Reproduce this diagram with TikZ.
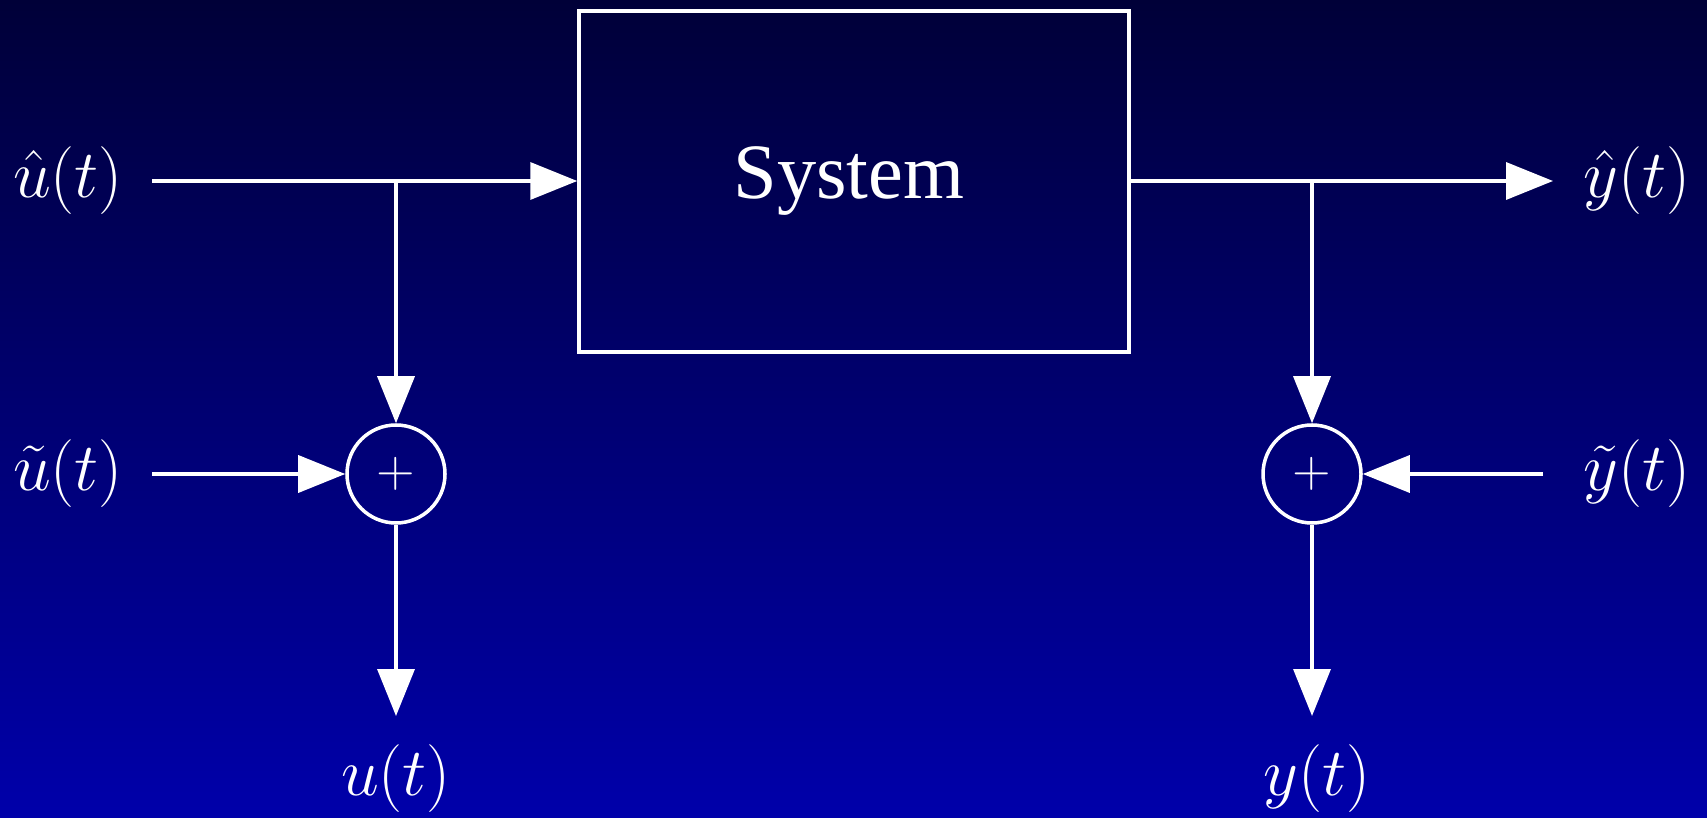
\RequirePackage{fix-cm}
\documentclass[tikz,border=0pt]{standalone}
\usepackage{fontspec}
\setmainfont{Liberation Serif}
\usetikzlibrary{arrows.meta}
\definecolor{bgtop}{RGB}{0,0,56}
\definecolor{bgbot}{RGB}{0,0,170}
\begin{document}
\begin{tikzpicture}[
  every node/.style={text=white},
  wire/.style={draw=white, line width=1pt},
  arr/.style={wire, -{Triangle[length=4.7mm,width=3.7mm]}},
  sig/.style={font=\fontsize{19.3}{23}\selectfont, inner sep=0pt},
  sumnode/.style={circle, draw=white, line width=1pt, minimum size=9.8mm, inner sep=0pt, font=\fontsize{14.4}{17}\selectfont},
  sysbox/.style={rectangle, draw=white, line width=1pt, minimum width=5.5cm, minimum height=3.41cm, inner sep=0pt}
]
\shade[top color=bgtop, bottom color=bgbot] (0,0) rectangle (17.07,8.17);
\useasboundingbox (0,0) rectangle (17.07,8.17);

\node[sysbox] (sys) at (8.54,6.355) {};
\node[font=\fontsize{22.3}{26}\selectfont, inner sep=0pt] (systxt) at (8.49,6.36) {System};

\node[sumnode] (sumu) at (3.96,3.43) {$+$};
\node[sumnode] (sumy) at (13.12,3.43) {$+$};

\node[sig] (uhat) at (0.68,6.36) {$\hat{u}(t)$};
\node[sig] (utilde) at (0.68,3.43) {$\tilde{u}(t)$};
\node[sig] (uout) at (3.96,0.38) {$u(t)$};
\node[sig] (yhat) at (16.37,6.36) {$\hat{y}(t)$};
\node[sig] (ytilde) at (16.37,3.43) {$\tilde{y}(t)$};
\node[sig] (yout) at (13.17,0.38) {$y(t)$};

\coordinate (uin) at (1.52,6.36);
\coordinate (bu) at (3.96,6.36);
\coordinate (utin) at (1.52,3.43);
\coordinate (uend) at (3.96,1.01);
\coordinate (yend) at (15.53,6.36);
\coordinate (by) at (13.12,6.36);
\coordinate (ytin) at (15.43,3.43);
\coordinate (yend2) at (13.12,1.01);

\draw[arr] (uin) -- (sys.west |- uin);
\draw[arr] (bu) -- (sumu.north);
\draw[arr] (utin) -- (sumu.west);
\draw[arr] (sumu.south) -- (uend);
\draw[arr] (sys.east |- yend) -- (yend);
\draw[arr] (by) -- (sumy.north);
\draw[arr] (ytin) -- (sumy.east);
\draw[arr] (sumy.south) -- (yend2);
\end{tikzpicture}
\end{document}
